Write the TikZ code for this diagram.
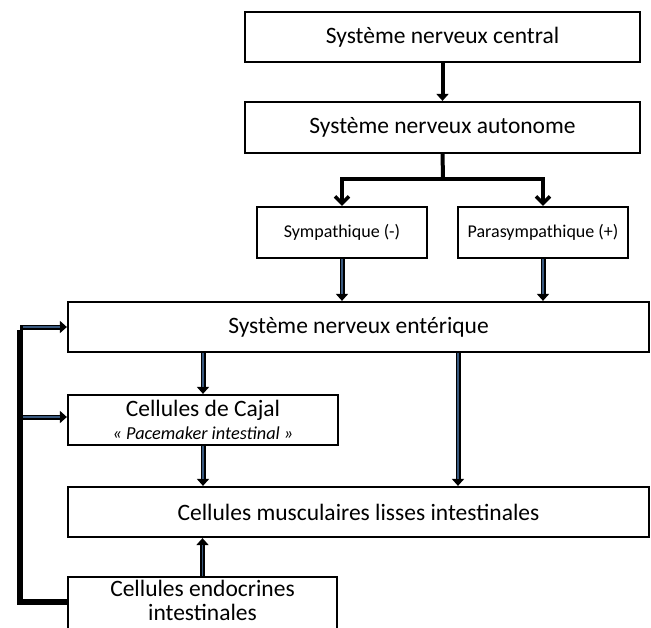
\documentclass[tikz,border=0pt]{standalone}
\usepackage{fontspec}
\setmainfont{Carlito}
\usetikzlibrary{arrows.meta}
\definecolor{inblue}{HTML}{3A5A80}
\begin{document}
\begin{tikzpicture}[x=1pt,y=-1pt,
  box/.style={draw=black,line width=2.2pt,fill=white,inner sep=0pt,align=center},
  big/.style={font=\fontsize{23.5}{27}\selectfont},
  small/.style={font=\fontsize{18}{21}\selectfont},
  plainarr/.style={draw=black,line width=4pt,-{Triangle[width=12pt,length=7pt]}},
  vee/.style={draw=black,line width=4pt,line join=miter,-{Straight Barb[width=14pt,length=7pt,line width=3.5pt]}},
  dbl/.style={draw=black,line width=5pt,-{Triangle[width=12pt,length=7pt]}},
  inner/.style={draw=inblue,line width=1.6pt,shorten >=7pt},
  fb/.style={draw=black,line width=6pt}]
\useasboundingbox (0,0) rectangle (651,627);
% boxes
\node[box,big,minimum width=395pt,minimum height=50pt] (snc) at (442.5,37) {Système nerveux central};
\node[box,big,minimum width=395pt,minimum height=51pt] (sna) at (442.5,127.5) {Système nerveux autonome};
\node[box,small,minimum width=170pt,minimum height=51pt] (sym) at (342,232.5) {Sympathique (-)};
\node[box,small,minimum width=170pt,minimum height=51pt] (para) at (543,232.5) {Parasympathique (+)};
\node[box,big,minimum width=581pt,minimum height=50pt] (sne) at (358.5,327) {Système nerveux entérique};
\node[box,minimum width=270pt,minimum height=50pt] (cajal) at (203,420) {};
\node[big,anchor=base] (cajalt) at (203,416) {Cellules de Cajal};
\node[font=\fontsize{18.3}{21}\selectfont\itshape,anchor=base] (cajali) at (203,439) {« Pacemaker intestinal »};
\node[box,big,minimum width=581pt,minimum height=50pt] (musc) at (358.5,512) {Cellules musculaires lisses intestinales};
\node[box,minimum width=269pt,minimum height=60pt,anchor=north] (endo) at (202.5,576) {};
\node[big,anchor=base] (endot1) at (202.5,596) {Cellules endocrines};
\node[big,anchor=base] (endot2) at (202.5,620) {intestinales};
% connectors
\draw[plainarr] (snc.south) -- (sna.north);
\coordinate (br) at (443,179);
\draw[vee] (br) -| (sym.north);
\draw[vee] (br) -| (para.north);
\draw[line width=4pt] (sna.south) -- ([yshift=2pt]br);
\draw[dbl] (sym.south) -- (sym.south |- sne.north);
\draw[inner] (sym.south) -- (sym.south |- sne.north);
\draw[dbl] (para.south) -- (para.south |- sne.north);
\draw[inner] (para.south) -- (para.south |- sne.north);
\draw[dbl] (sne.south -| cajal.north) -- (cajal.north);
\draw[inner] (sne.south -| cajal.north) -- (cajal.north);
\draw[dbl] (cajal.south) -- (cajal.south |- musc.north);
\draw[inner] (cajal.south) -- (cajal.south |- musc.north);
\draw[dbl] (endo.north) -- (endo.north |- musc.south);
\draw[inner] (endo.north) -- (endo.north |- musc.south);
\coordinate (sneb) at (458,352);
\draw[dbl] (sne.south -| sneb) -- (musc.north -| sneb);
\draw[inner] (sne.south -| sneb) -- (musc.north -| sneb);
% feedback
\coordinate (fbb) at (20,602);
\coordinate (fbt) at (20,327);
\coordinate (fbm) at (20,417);
\draw[fb] (endo.west |- fbb) -- (fbb) -- ([yshift=-2.5pt]fbt);
\draw[dbl] (fbt) -- (sne.west |- fbt);
\draw[inner] ([xshift=3pt]fbt) -- (sne.west |- fbt);
\draw[dbl] (fbm) -- (cajal.west |- fbm);
\draw[inner] ([xshift=3pt]fbm) -- (cajal.west |- fbm);
\end{tikzpicture}
\end{document}
